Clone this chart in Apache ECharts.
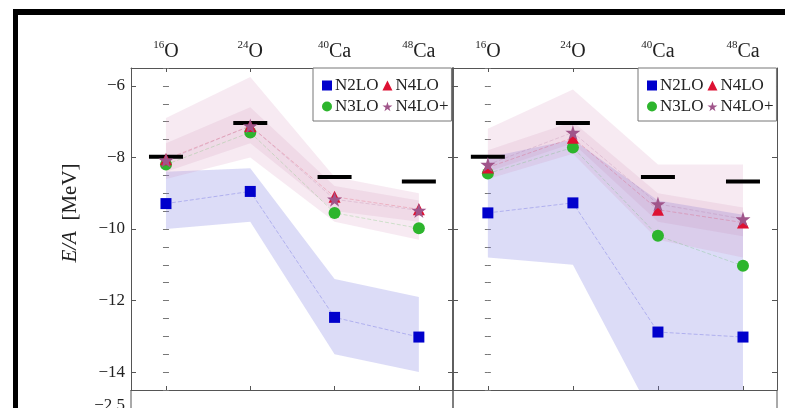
<!DOCTYPE html>
<html><head><meta charset="utf-8">
<script src="https://cdn.jsdelivr.net/npm/echarts@6/dist/echarts.min.js"></script>
<style>html,body{margin:0;padding:0;background:#fff}#c{width:785px;height:408px}</style>
</head><body><div id="c"></div>
<script>
// ---- data ----
const nuclei = [['16','O'],['24','O'],['40','Ca'],['48','Ca']];
const xPos = [0,1,2,3];
const yTicks = [-14,-12,-10,-8,-6];
const expE = [-7.98,-7.04,-8.55,-8.67];

// left panel
const A_N2LO = [-9.29,-8.95,-12.47,-13.02];
const A_N3LO = [-8.2,-7.3,-9.55,-9.98];
const A_N4LO = [-8.05,-7.12,-9.1,-9.45];
const A_N4LOp = [-8.08,-7.12,-9.17,-9.48];
const A_blueLo = [-10.0,-9.8,-13.5,-14.0];
const A_blueHi = [-8.4,-8.3,-11.4,-11.9];
const A_pinkLo = [-8.6,-8.0,-9.8,-10.3];
const A_pinkHi = [-6.9,-5.75,-8.55,-9.0];
const A_innerLo = [-8.4,-7.6,-9.5,-9.8];
const A_innerHi = [-7.6,-6.6,-8.8,-9.2];

// right panel
const B_N2LO = [-9.55,-9.27,-12.88,-13.02];
const B_N3LO = [-8.45,-7.72,-10.19,-11.03];
const B_N4LO = [-8.28,-7.45,-9.46,-9.82];
const B_N4LOp = [-8.2,-7.3,-9.3,-9.72];
const B_blueLo = [-10.8,-11.0,-15.5,-15.5];
const B_blueHi = [-8.0,-7.5,-9.2,-9.6];
const B_pinkLo = [-8.6,-7.9,-10.3,-10.8];
const B_pinkHi = [-7.2,-6.1,-8.2,-8.2];
const B_innerLo = [-8.4,-7.6,-9.8,-10.2];
const B_innerHi = [-7.8,-7.0,-9.0,-9.4];

// ---- style ----
const FONT = 'Liberation Serif';
const AX = '#555';
const STAR = 'path://M50,0 L61,35 L98,35 L68,57 L79,91 L50,70 L21,91 L32,57 L2,35 L39,35 Z';
const markerDefs = [
  {name:'N2LO', color:'#0000cc', symbol:'rect', size:11},
  {name:'N3LO', color:'#2db52d', symbol:'circle', size:12},
  {name:'N4LO', color:'#dd1133', symbol:'triangle', size:12},
  {name:'N4LO+', color:'#a0558a', symbol:STAR, size:15}
];

function xAxisDef(grid, pos, showLabel) {
  return {type:'value', gridIndex:grid, position:pos,
    min: grid===0 ? -0.415 : -0.41, max: grid===0 ? 3.405 : 3.4,
    splitLine:{show:false},
    axisLine:{show:true, onZero:false, lineStyle:{color:AX, width:1}},
    axisTick:{show:true, inside:true, length:4, customValues:xPos, lineStyle:{color:AX}},
    axisLabel: showLabel ? {show:true, customValues:xPos, margin:6,
      formatter: v => '{s|' + nuclei[Math.round(v)][0] + '}{e|' + nuclei[Math.round(v)][1] + '}',
      rich:{
        s:{fontFamily:FONT, fontSize:11, lineHeight:12, verticalAlign:'top', color:'#222'},
        e:{fontFamily:FONT, fontSize:20, lineHeight:22, verticalAlign:'bottom', color:'#222'}
      }} : {show:false}
  };
}
function yAxisDef(grid, pos, showLabel, width) {
  return {type:'value', gridIndex:grid, position:pos, min:-14.5, max:-5.5,
    splitLine:{show:false},
    axisLine:{show:true, onZero:false, lineStyle:{color:AX, width:width||1}},
    axisTick:{show:true, inside:true, length:5, customValues:yTicks, lineStyle:{color:AX}},
    axisLabel: showLabel ? {show:true, customValues:yTicks, margin:6, fontFamily:FONT, fontSize:17, color:'#222',
      formatter: v => (v<0 ? '\u2212' : '') + Math.abs(v)} : {show:false}
  };
}
function yMinorDef(grid, pos) {
  return {type:'value', gridIndex:grid, position:pos, min:-14.5, max:-5.5, interval:0.5,
    splitLine:{show:false}, axisLine:{show:false},
    axisTick:{show:true, inside:true, length:3, lineStyle:{color:'#777'}}, axisLabel:{show:false}};
}

function band(xi, yi, lo, hi, color) {
  return {type:'custom', xAxisIndex:xi, yAxisIndex:yi, silent:true, clip:true, z:1,
    data: xPos.map((x,i)=>[x, lo[i], hi[i]]),
    renderItem: (params, api) => {
      if (params.dataIndex !== 0) return {type:'group', children:[]};
      const top = xPos.map((x,i)=>api.coord([x, hi[i]]));
      const bot = xPos.map((x,i)=>api.coord([x, lo[i]])).reverse();
      return {type:'polygon', shape:{points: top.concat(bot)}, style:{fill:color}};
    }};
}

function panelSeries(p, vals, bands) {
  const xi = p===0 ? 0 : 2, yi = p===0 ? 0 : 2;
  const s = [];
  // markers first so legend picks their visuals
  markerDefs.forEach((m,k) => {
    s.push({type:'scatter', name:m.name, xAxisIndex:xi, yAxisIndex:yi, z:4 + k, silent:true,
      symbol:m.symbol, symbolSize:m.size, itemStyle:{color:m.color, opacity:1},
      data: xPos.map((x,i)=>[x, vals[k][i]])});
  });
  s.push(band(xi, yi, bands[0], bands[1], 'rgba(120,120,225,0.26)'));
  s.push(band(xi, yi, bands[2], bands[3], 'rgba(205,130,180,0.17)'));
  s.push(band(xi, yi, bands[4], bands[5], 'rgba(190,110,160,0.12)'));
  markerDefs.forEach((m,k) => {
    s.push({type:'line', name:m.name, xAxisIndex:xi, yAxisIndex:yi, z:2, silent:true,
      symbol:'none', data: xPos.map((x,i)=>[x, vals[k][i]]),
      itemStyle:{color:m.color},
      lineStyle:{color:m.color, width:1, type:'dashed', opacity:0.2}});
  });
  s.push({type:'scatter', name:'exp', xAxisIndex:xi, yAxisIndex:yi, z:3, silent:true,
    symbol:'rect', symbolSize:[34,4], itemStyle:{color:'#000', opacity:1},
    data: xPos.map((x,i)=>[x, expE[i]])});
  return s;
}

function legendDef(left) {
  return {left:left, top:68, orient:'horizontal', width:145,
    data:['N2LO','N4LO','N3LO','N4LO+'],
    itemWidth:10, itemHeight:10, itemGap:4, selectedMode:false,
    padding:[9,3,6,9], borderColor:'#777', borderWidth:1, backgroundColor:'#fff',
    textStyle:{fontFamily:FONT, fontSize:17, lineHeight:12, color:'#222', padding:[0,0,0,-2]}};
}

const series = [].concat(
  panelSeries(0, [A_N2LO, A_N3LO, A_N4LO, A_N4LOp], [A_blueLo, A_blueHi, A_pinkLo, A_pinkHi, A_innerLo, A_innerHi]),
  panelSeries(1, [B_N2LO, B_N3LO, B_N4LO, B_N4LOp], [B_blueLo, B_blueHi, B_pinkLo, B_pinkHi, B_innerLo, B_innerHi])
);

const chart = echarts.init(document.getElementById('c'));
chart.setOption({
  animation:false,
  backgroundColor:'#fff',
  grid:[
    {left:131, top:68, width:322, height:322},
    {left:453, top:68, width:324, height:322}
  ],
  xAxis:[xAxisDef(0,'bottom',false), xAxisDef(0,'top',true), xAxisDef(1,'bottom',false), xAxisDef(1,'top',true)],
  yAxis:[yAxisDef(0,'left',true), yAxisDef(0,'right',false,1.5), yAxisDef(1,'left',false,1.5), yAxisDef(1,'right',false),
         yMinorDef(0,'left'), yMinorDef(0,'right'), yMinorDef(1,'left'), yMinorDef(1,'right')],
  legend:[legendDef(313), legendDef(638)],
  series: series,
  graphic:[
    {type:'rect', shape:{x:13, y:9, width:772, height:6}, style:{fill:'#000'}, z:100},
    {type:'rect', shape:{x:13, y:9, width:5, height:399}, style:{fill:'#000'}, z:100},
    {type:'text', x:70, y:213, rotation:Math.PI/2, z:100,
      style:{text:'{i|E/A}  [MeV]', align:'center', verticalAlign:'middle',
        rich:{i:{fontFamily:FONT, fontStyle:'italic', fontSize:21, fill:'#222'}},
        fontFamily:FONT, fontSize:21, fill:'#222'}},
    {type:'line', shape:{x1:131, y1:390, x2:131, y2:408}, style:{stroke:AX, lineWidth:1}},
    {type:'line', shape:{x1:453, y1:390, x2:453, y2:408}, style:{stroke:AX, lineWidth:1.5}},
    {type:'line', shape:{x1:777, y1:390, x2:777, y2:408}, style:{stroke:AX, lineWidth:1}},
    {type:'text', x:125, y:397, style:{text:'\u22122.5', align:'right', verticalAlign:'top', fontFamily:FONT, fontSize:17, fill:'#222'}}
  ]
});
</script></body></html>
